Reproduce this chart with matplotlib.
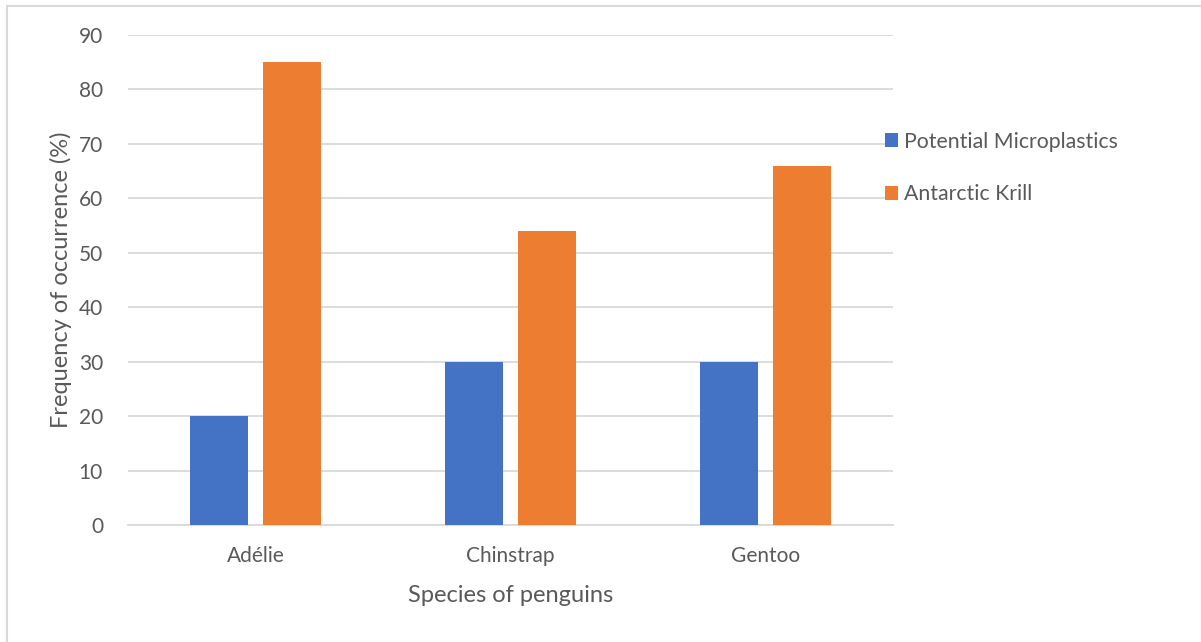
import matplotlib

matplotlib.use("Agg")

import matplotlib.pyplot as plt
import numpy as np
from matplotlib.patches import Rectangle

species = ["Adélie", "Chinstrap", "Gentoo"]
microplastics = [20, 30, 30]
krill = [85, 54, 66]
series_names = ["Potential Microplastics", "Antarctic Krill"]
y_ticks = [0, 10, 20, 30, 40, 50, 60, 70, 80, 90]

plt.rcParams["font.family"] = ["Lato", "DejaVu Sans"]
text_color = "#595959"
grid_color = "#d9d9d9"

fig = plt.figure(figsize=(12.01, 6.42), dpi=100)
ax = fig.add_axes([128 / 1201, 1 - 525 / 642, 765 / 1201, 490 / 642])

# outer chart frame (only left and top edges visible)
fig.patches.append(Rectangle((7 / 1201, -0.1), 1.2, (1 - 6 / 642) + 0.1,
                             transform=fig.transFigure, fill=False,
                             edgecolor=grid_color, linewidth=1.5))

x = np.arange(len(species))
width = 0.224
offset = 0.143
ax.bar(x - offset, microplastics, width, color="#4472c4", label=series_names[0], zorder=3)
ax.bar(x + offset, krill, width, color="#ed7d31", label=series_names[1], zorder=3)

ax.set_xlim(-0.5, 2.5)
ax.set_ylim(0, 90)
ax.set_yticks(y_ticks)
ax.set_xticks(x, labels=species)
ax.tick_params(length=0, labelsize=15, colors=text_color)
ax.tick_params(axis="x", pad=15)
ax.tick_params(axis="y", pad=18)
ax.yaxis.grid(True, color=grid_color, linewidth=1.3, zorder=0)
for side in ["top", "right", "left"]:
    ax.spines[side].set_visible(False)
ax.spines["bottom"].set_color(grid_color)
ax.spines["bottom"].set_linewidth(1.3)

ax.set_ylabel("Frequency of occurrence (%)", fontsize=17, color=text_color, labelpad=5)
ax.set_xlabel("Species of penguins", fontsize=17, color=text_color, labelpad=14)

ax.legend(loc="upper left", bbox_to_anchor=(876 / 1201, 1 - 123 / 642),
          bbox_transform=fig.transFigure, frameon=False, fontsize=15.3,
          labelcolor=text_color, handlelength=0.62, handleheight=0.62,
          handletextpad=0.3, labelspacing=1.55, borderaxespad=0)

fig.savefig("out.png", dpi=100)
